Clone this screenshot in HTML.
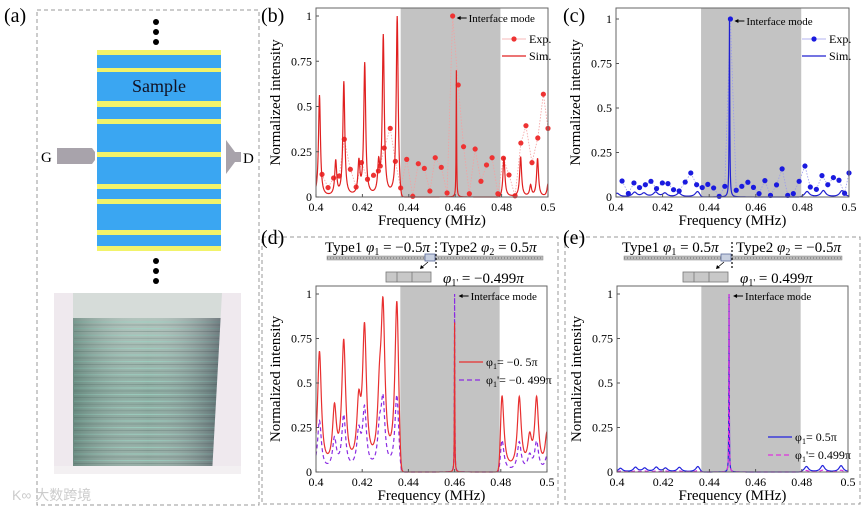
<!DOCTYPE html>
<html><head><meta charset="utf-8"><style>
body{margin:0;background:#fff;}
svg{display:block;font-family:"Liberation Serif",serif;}
</style></head><body>
<svg id="fig" width="865" height="512" viewBox="0 0 865 512" xmlns="http://www.w3.org/2000/svg">
<defs>
<linearGradient id="glass" x1="0" y1="0" x2="0" y2="1">
<stop offset="0" stop-color="#a9bdb5"/><stop offset="0.5" stop-color="#7fa296"/><stop offset="1" stop-color="#8aa49b"/>
</linearGradient>
<linearGradient id="glassH" x1="0" y1="0" x2="1" y2="0">
<stop offset="0" stop-color="#4f6f66" stop-opacity="0.5"/><stop offset="0.5" stop-color="#fff" stop-opacity="0.1"/><stop offset="1" stop-color="#334" stop-opacity="0.5"/>
</linearGradient>
</defs>
<g>
<text x="4" y="22" font-size="20">(a)</text>
<rect x="37" y="10" width="222" height="495" fill="none" stroke="#999" stroke-dasharray="4,3"/>
<g id="sample"></g>
<text x="159" y="92" font-size="18" text-anchor="middle" fill="#112">Sample</text>
<circle cx="156" cy="22" r="3" fill="#000"/><circle cx="156" cy="32" r="3" fill="#000"/><circle cx="156" cy="42" r="3" fill="#000"/>
<circle cx="156" cy="261" r="3" fill="#000"/><circle cx="156" cy="271" r="3" fill="#000"/><circle cx="156" cy="281" r="3" fill="#000"/>
<text x="41" y="162" font-size="15">G</text>
<path d="M57 148 H92 L95 152 V160 L92 164 H57 Z" fill="#a8a3ab"/>
<path d="M226 140 L235 152 H241 V162 H235 L226 174 Z" fill="#a8a3ab"/>
<text x="243" y="163" font-size="15">D</text>
<g>
<rect x="54" y="293" width="187" height="181" fill="#ece6ea"/>
<rect x="73" y="293" width="150" height="28" fill="#d6dcd9"/>
<rect x="73" y="318" width="150" height="148" fill="url(#glass)"/>
<g id="photoLines"></g>
<rect x="73" y="318" width="150" height="148" fill="url(#glassH)"/>
<path d="M54 293 H73 V474 H54 Z" fill="#efe9ee"/>
<path d="M222 293 H241 V474 H212 Z" fill="#efe9ee"/>
<rect x="54" y="466" width="187" height="8" fill="#f3f0f2"/>
</g>
<text x="12" y="500" font-size="14" fill="#ccc" font-family="Liberation Sans, Noto Sans CJK SC, sans-serif">K∞ 大数跨境</text>
</g>
<rect x="262" y="237" width="296" height="267" fill="none" stroke="#999" stroke-dasharray="4,3"/>
<rect x="565" y="237" width="295" height="267" fill="none" stroke="#999" stroke-dasharray="4,3"/>
<text x="261" y="22" font-size="20">(b)</text>
<text x="563" y="22" font-size="20">(c)</text>
<text x="261" y="244" font-size="20">(d)</text>
<text x="563" y="244" font-size="20">(e)</text>
<g id="plots"></g>
</svg>
<script>
const xTicks=[0.4,0.42,0.44,0.46,0.48,0.5];
const xTickLabels=["0.4","0.42","0.44","0.46","0.48","0.5"];
const yTicks=[0,0.25,0.5,0.75,1];
const yTickLabels=["0","0.25","0.5","0.75","1"];
const gapBand=[0.4365,0.4795];
const bSimPeaks=[0.4015,0.4085,0.412,0.4185,0.421,0.427,0.429,0.435,0.481,0.4882,0.4925,0.4955,0.5];
const bSimHeights=[0.56,0.19,0.63,0.18,0.73,0.16,0.88,1.0,0.22,0.22,0.06,0.21,0.07];
const bInterfaceFreq=0.4605, bInterfaceHeight=0.7;
const bExpFreq=[0.4026,0.4052,0.4076,0.41,0.4122,0.4148,0.4173,0.4196,0.4222,0.4248,0.4269,0.4277,0.4294,0.432,0.4342,0.4365,0.4391,0.4417,0.4441,0.4467,0.4491,0.4514,0.454,0.4565,0.4589,0.4613,0.4636,0.4661,0.4686,0.4711,0.4735,0.4759,0.4784,0.4808,0.4832,0.4858,0.4883,0.4905,0.4931,0.4956,0.498,0.5];
const bExpVals=[0.125,0.052,0.105,0.116,0.319,0.153,0.055,0.19,0.098,0.12,0.144,0.171,0.271,0.379,0.197,0.05,0.208,0.004,0.184,0.158,0.033,0.217,0.164,0.022,1.0,0.619,0.278,0.018,0.265,0.087,0.177,0.217,0.018,0.214,0.122,0.007,0.298,0.394,0.19,0.326,0.568,0.379];
const cSimPeaks=[0.4005,0.408,0.412,0.417,0.421,0.427,0.435,0.482,0.489,0.497];
const cSimHeights=[0.02,0.025,0.02,0.025,0.02,0.02,0.03,0.03,0.035,0.035];
const cInterfaceFreq=0.4487, cInterfaceHeight=1.0;
const cExpFreq=[0.4026,0.4053,0.4077,0.4101,0.4126,0.415,0.4174,0.4199,0.4223,0.4247,0.4271,0.4297,0.4321,0.4346,0.437,0.4394,0.4419,0.4443,0.4467,0.4491,0.4516,0.454,0.4566,0.459,0.4614,0.4639,0.4663,0.4689,0.4713,0.4737,0.4761,0.4786,0.4811,0.4834,0.486,0.4884,0.4909,0.4933,0.4957,0.4981,0.5];
const cExpVals=[0.09,0.02,0.079,0.053,0.069,0.088,0.047,0.079,0.075,0.041,0.034,0.084,0.135,0.069,0.053,0.071,0.051,0.004,0.06,1.0,0.038,0.06,0.083,0.054,0.019,0.092,0.009,0.068,0.158,0.009,0.019,0.088,0.174,0.056,0.043,0.12,0.069,0.109,0.094,0.021,0.135];
const dPeaks=[0.4015,0.408,0.412,0.4185,0.421,0.4275,0.429,0.435,0.4805,0.488,0.4925,0.4955,0.5];
const dRedHeights=[0.66,0.32,0.7,0.32,0.76,0.32,0.84,0.93,0.43,0.4,0.16,0.39,0.2];
const dPurpleHeights=[0.28,0.17,0.3,0.2,0.33,0.19,0.36,0.42,0.18,0.16,0.08,0.16,0.08];
const dInterfaceFreq=0.46, dInterfaceHeight=1.0;
const ePeaks=[0.4015,0.408,0.412,0.417,0.421,0.427,0.435,0.482,0.489,0.497];
const eBlueHeights=[0.02,0.025,0.02,0.025,0.02,0.025,0.03,0.03,0.035,0.035];
const eMagHeights=[0.005,0.006,0.005,0.006,0.005,0.006,0.008,0.008,0.01,0.01];
const eInterfaceFreq=0.4485, eInterfaceHeight=1.0;

const NS="http://www.w3.org/2000/svg";
function mk(tag,attrs,parent){const e=document.createElementNS(NS,tag);for(const k in attrs)e.setAttribute(k,attrs[k]);parent.appendChild(e);return e;}

(function(){
 const g=document.getElementById('sample');
 mk('rect',{x:97,y:50,width:124,height:201,fill:'#3aa6f2'},g);
 const ys=[[50,55],[68,72],[101,107],[119,124],[152,157],[184,189],[199,204],[230,235],[246,251]];
 ys.forEach(function(s){mk('rect',{x:97,y:s[0],width:124,height:s[1]-s[0],fill:'#f2f36a'},g);});
 const pl=document.getElementById('photoLines');
 for(let i=0;i<22;i++){const y=322+i*6.6;mk('line',{x1:74,y1:y,x2:222-i*0.4,y2:y,stroke:'#8fd0bd','stroke-width':1,opacity:0.8},pl);
  mk('line',{x1:74,y1:y+3,x2:222-i*0.4,y2:y+3,stroke:'#3d5550','stroke-width':0.7,opacity:0.4},pl);}
})();

function lor(f,peaks,hs,g){let s=0;for(let i=0;i<peaks.length;i++){const d=(f-peaks[i])/g;s+=hs[i]/(1+d*d);}return s;}
function gapF(f){const a=1/(1+Math.exp(-(f-gapBand[0])/0.0003));const b=1/(1+Math.exp((f-gapBand[1])/0.0003));return 1-a*b;}

function panel(P){
 const root=document.getElementById('plots');
 const g=mk('g',{},root);
 
 
 const X=f=>P.x0+(f-0.4)/0.1*(P.x1-P.x0);
 const Y=v=>P.y0-v*(P.y0-P.y1);
 const top=P.boxTop;
 const gr=mk('rect',{x:X(gapBand[0]),y:top,width:X(gapBand[1])-X(gapBand[0]),height:P.y0-top,fill:'#c3c3c3'},g);
 
 
 P.series.forEach(function(s){
  let d='';
  if(s.path){s.path.forEach(function(p,i){d+=(i?'L':'M')+X(p[0]).toFixed(2)+' '+Y(Math.min(1,p[1])).toFixed(2);});}
  const el=mk('path',{d:d,fill:'none',stroke:s.lc||s.color,'stroke-width':s.w||1.2,'stroke-dasharray':s.dash||'none'},g);
  
  
  if(s.pts){s.pts.forEach(function(p){const c=mk('circle',{cx:X(p[0]),cy:Y(p[1]),r:2.6,fill:s.color},g);
   
   });}
 });
 const fr=mk('rect',{x:P.x0,y:top,width:P.x1-P.x0,height:P.y0-top,fill:'none',stroke:'#666','stroke-width':1},g);
 
 
 xTicks.forEach(function(t,i){
  mk('line',{x1:X(t),y1:P.y0,x2:X(t),y2:P.y0-3,stroke:'#555'},g);
  const tx=mk('text',{x:X(t),y:P.y0+14,'font-size':12,'text-anchor':'middle'},g);tx.textContent=xTickLabels[i];
  
  
 });
 yTicks.forEach(function(t,i){
  mk('line',{x1:P.x0,y1:Y(t),x2:P.x0+3,y2:Y(t),stroke:'#555'},g);
  const tx=mk('text',{x:P.x0-4,y:Y(t)+4,'font-size':12,'text-anchor':'end'},g);tx.textContent=yTickLabels[i];
  
  
 });
 const xt=mk('text',{x:(P.x0+P.x1)/2,y:P.y0+28,'font-size':15,'text-anchor':'middle'},g);xt.textContent='Frequency (MHz)';
 
 
 const cy=(top+P.y0)/2;
 const yt=mk('text',{x:P.x0-36,y:cy,'font-size':15,'text-anchor':'middle',transform:'rotate(-90 '+(P.x0-36)+' '+cy+')'},g);yt.textContent='Normalized intensity';
 
 
 const ax=X(P.ifreq)+4, ay=Y(1)+3;
 mk('line',{x1:ax+10,y1:ay-1,x2:ax+1,y2:ay-1,stroke:'#000','stroke-width':1},g);
 mk('path',{d:'M'+ax+' '+(ay-1)+' l4 -2 v4 z',fill:'#000'},g);
 const an=mk('text',{x:ax+12,y:ay+3,'font-size':11},g);an.textContent='Interface mode';
 
 
 P.legend.forEach(function(L,i){
  const ly=P.legY+i*P.legDy;
  if(L.dash) mk('line',{x1:P.legX,y1:ly,x2:P.legX+24,y2:ly,stroke:L.color,'stroke-width':1.3,'stroke-dasharray':L.dash},g);
  else mk('line',{x1:P.legX,y1:ly,x2:P.legX+24,y2:ly,stroke:L.lc||L.color,'stroke-width':L.dot?0.8:1.3},g);
  if(L.dot) mk('circle',{cx:P.legX+12,cy:ly,r:2.6,fill:L.color},g);
  const lt=mk('text',{x:P.legX+27,y:ly+4,'font-size':12},g);lt.innerHTML=L.label;
  
  
 });
}

function curve(peaks,hs,g,ifreq,ih,iw){
 const out=[];
 for(let i=0;i<=1000;i++){const f=0.4+i*0.0001;let v=lor(f,peaks,hs,g)*gapF(f);
  const d=(f-ifreq)/iw;v+=ih/(1+d*d);out.push([f,v]);}
 return out;
}

panel({name:'panel-b-chart',x0:316,x1:548,y0:197,y1:16,boxTop:8,ifreq:0.4589,
 series:[
  {name:'exp-series',color:'#e33',lc:'#f4a0a0',w:0.8,dash:'1.5,1.5',path:bExpFreq.map((f,i)=>[f,bExpVals[i]]),pts:bExpFreq.map((f,i)=>[f,bExpVals[i]])},
  {name:'sim-series',color:'#e02020',w:1.2,path:curve(bSimPeaks,bSimHeights,0.0005,bInterfaceFreq,bInterfaceHeight,0.00012)}
 ],
 legX:502,legY:39,legDy:17,legend:[{label:'Exp.',color:'#e33',lc:'#f4a0a0',dot:true},{label:'Sim.',color:'#e02020'}]});

panel({name:'panel-c-chart',x0:616,x1:849,y0:197,y1:19,boxTop:8,ifreq:0.4491,
 series:[
  {name:'exp-series',color:'#1a1adf',lc:'#9a9aee',w:0.8,dash:'1.5,1.5',path:cExpFreq.map((f,i)=>[f,cExpVals[i]]),pts:cExpFreq.map((f,i)=>[f,cExpVals[i]])},
  {name:'sim-series',color:'#2020d0',w:1.2,path:curve(cSimPeaks,cSimHeights,0.0012,cInterfaceFreq,cInterfaceHeight,0.00015)}
 ],
 legX:802,legY:39,legDy:17,legend:[{label:'Exp.',color:'#1a1adf',lc:'#9a9aee',dot:true},{label:'Sim.',color:'#2020d0'}]});

panel({name:'panel-d-chart',x0:316,x1:547,y0:472,y1:294,boxTop:286,ifreq:dInterfaceFreq,
 series:[
  {name:'phi1-prime-series',color:'#8a2be2',w:1.2,dash:'4,3',path:curve(dPeaks,dPurpleHeights,0.001,dInterfaceFreq,dInterfaceHeight,0.0001)},
  {name:'phi1-series',color:'#e83030',w:1.2,path:curve(dPeaks,dRedHeights,0.001,dInterfaceFreq,0.84,0.0001)}
 ],
 legX:459,legY:362,legDy:18,legend:[{label:'φ<tspan font-size="8" dy="3">1</tspan><tspan dy="-3">= −0. 5π</tspan>',color:'#e83030'},{label:'φ<tspan font-size="8" dy="3">1</tspan><tspan dy="-3">\'= −0. 499π</tspan>',color:'#8a2be2',dash:'5,3'}]});

panel({name:'panel-e-chart',x0:617,x1:848,y0:472,y1:294,boxTop:286,ifreq:eInterfaceFreq,
 series:[
  {name:'phi1-series',color:'#2222dd',w:1.2,path:curve(ePeaks,eBlueHeights,0.0011,eInterfaceFreq,eInterfaceHeight,0.0001)},
  {name:'phi1-prime-series',color:'#dd33dd',w:1.2,dash:'4,3',path:curve(ePeaks,eMagHeights,0.0011,eInterfaceFreq,eInterfaceHeight,0.0001)}
 ],
 legX:768,legY:437,legDy:18,legend:[{label:'φ<tspan font-size="8" dy="3">1</tspan><tspan dy="-3">= 0.5π</tspan>',color:'#2222dd'},{label:'φ<tspan font-size="8" dy="3">1</tspan><tspan dy="-3">\'= 0.499π</tspan>',color:'#dd33dd',dash:'5,3'}]});

function inset(o){
 const g=mk('g',{},document.getElementById('plots'));
 
 
 mk('rect',{x:o.bx0,y:256,width:o.bx1-o.bx0,height:4,fill:'#bbb',stroke:'#888','stroke-width':0.5},g);
 mk('line',{x1:o.bx0,y1:258,x2:o.bx1,y2:258,stroke:'#666','stroke-width':1,'stroke-dasharray':'1,2'},g);
 mk('line',{x1:o.dv,y1:242,x2:o.dv,y2:269,stroke:'#000','stroke-width':1.2,'stroke-dasharray':'2,2'},g);
 mk('rect',{x:o.dv-11,y:254,width:10,height:7,fill:'#c8d0e0',stroke:'#5a6a9a','stroke-width':0.8},g);
 mk('line',{x1:o.dv-8,y1:262,x2:o.dv-15,y2:268,stroke:'#000','stroke-width':0.8},g);
 mk('path',{d:'M'+(o.dv-16)+' 269 l1 -4 l3 3 z',fill:'#000'},g);
 mk('rect',{x:o.rx,y:272,width:45,height:10,fill:'#c8c8c8',stroke:'#777','stroke-width':0.8},g);
 mk('line',{x1:o.rx+11,y1:272,x2:o.rx+11,y2:282,stroke:'#777','stroke-width':0.8},g);
 mk('line',{x1:o.rx+26,y1:272,x2:o.rx+26,y2:282,stroke:'#777','stroke-width':0.8},g);
 const t1=mk('text',{x:o.t1x,y:252,'font-size':15},g);t1.innerHTML=o.t1;
 
 
 const t2=mk('text',{x:o.dv+4,y:252,'font-size':15},g);t2.innerHTML=o.t2;
 
 
 const t3=mk('text',{x:o.t3x,y:283,'font-size':15},g);t3.innerHTML=o.t3;
 
 
}
const sub='<tspan font-size="10" dy="3">1</tspan><tspan dy="-3">';
inset({name:'panel-d-inset',bx0:327,bx1:543,dv:436,rx:386,t1x:325,t3x:443,
 t1:'Type1 <tspan font-style="italic">φ</tspan>'+sub+' = −0.5<tspan font-style="italic">π</tspan></tspan>',
 t2:'Type2 <tspan font-style="italic">φ</tspan><tspan font-size="10" dy="3">2</tspan><tspan dy="-3"> = 0.5<tspan font-style="italic">π</tspan></tspan>',
 t3:'<tspan font-style="italic">φ</tspan><tspan font-size="10" dy="3">1\'</tspan><tspan dy="-3"> = −0.499<tspan font-style="italic">π</tspan></tspan>'});
inset({name:'panel-e-inset',bx0:624,bx1:842,dv:732,rx:683,t1x:622,t3x:740,
 t1:'Type1 <tspan font-style="italic">φ</tspan>'+sub+' = 0.5<tspan font-style="italic">π</tspan></tspan>',
 t2:'Type2 <tspan font-style="italic">φ</tspan><tspan font-size="10" dy="3">2</tspan><tspan dy="-3"> = −0.5<tspan font-style="italic">π</tspan></tspan>',
 t3:'<tspan font-style="italic">φ</tspan><tspan font-size="10" dy="3">1\'</tspan><tspan dy="-3"> = 0.499<tspan font-style="italic">π</tspan></tspan>'});
</script>
</body></html>
